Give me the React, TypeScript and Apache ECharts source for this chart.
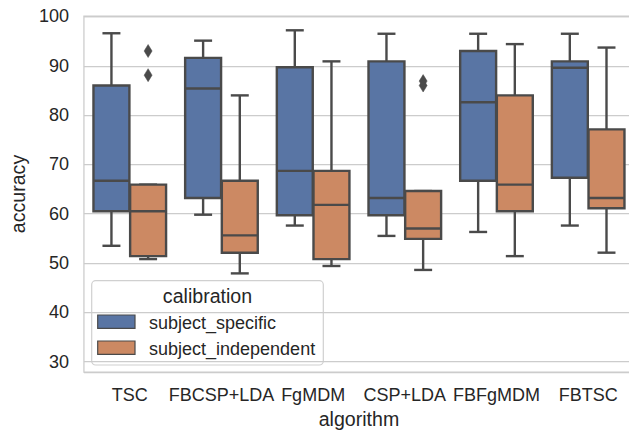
import React, { useEffect, useRef } from "react";
import * as echarts from "echarts";

const categories = ["TSC", "FBCSP+LDA", "FgMDM", "CSP+LDA", "FBFgMDM", "FBTSC"];
const hueNames = ["subject_specific", "subject_independent"];
const hueColors = ["#5975a4", "#cc8963"];
const yTicks = [30, 40, 50, 60, 70, 80, 90, 100];

// [low whisker, Q1, median, Q3, high whisker]
const specificStats = [
  [53.5, 60.5, 66.7, 86.0, 96.6],
  [59.8, 63.2, 85.4, 91.6, 95.1],
  [57.6, 59.7, 68.7, 89.7, 97.2],
  [55.5, 59.7, 63.2, 90.9, 96.5],
  [56.3, 66.7, 82.6, 93.0, 96.5],
  [57.6, 67.3, 89.6, 90.9, 96.5],
];
const independentStats = [
  [50.8, 51.4, 60.5, 65.9, 65.9],
  [47.9, 52.1, 55.6, 66.7, 84.0],
  [49.4, 50.8, 61.8, 68.7, 90.9],
  [48.6, 54.9, 57.0, 64.6, 64.6],
  [51.4, 60.5, 65.9, 84.0, 94.4],
  [52.1, 61.1, 63.2, 77.1, 93.7],
];
const outlierCategory = [0, 0, 3, 3];
const outlierHue = [1, 1, 1, 1];
const outlierValue = [93.0, 88.1, 86.9, 86.0];

const LINE = "#4a4a4a";
const TEXT = "#262626";
const FONT = "'Liberation Sans', Arial, Helvetica, sans-serif";
const LW = 2.4;

function makeBoxRender(hue: number) {
  return (params: any, api: any) => {
    const cat = api.value(0);
    const low = api.value(1);
    const q1 = api.value(2);
    const med = api.value(3);
    const q3 = api.value(4);
    const high = api.value(5);
    const band = api.size([1, 0])[0];
    const cx = api.coord([cat, q1])[0] + (hue - 0.5) * 0.4 * band;
    const w = band * 0.4 * 0.98;
    const half = w / 2;
    const cap = half / 2;
    const y = (v: number) => api.coord([cat, v])[1];
    const ls = { stroke: LINE, lineWidth: LW, fill: "none" };
    return {
      type: "group",
      children: [
        { type: "line", shape: { x1: cx, y1: y(q3), x2: cx, y2: y(high) }, style: ls },
        { type: "line", shape: { x1: cx - cap, y1: y(high), x2: cx + cap, y2: y(high) }, style: ls },
        { type: "line", shape: { x1: cx, y1: y(q1), x2: cx, y2: y(low) }, style: ls },
        { type: "line", shape: { x1: cx - cap, y1: y(low), x2: cx + cap, y2: y(low) }, style: ls },
        {
          type: "rect",
          shape: { x: cx - half, y: y(q3), width: w, height: y(q1) - y(q3) },
          style: { fill: hueColors[hue], stroke: LINE, lineWidth: LW },
        },
        { type: "line", shape: { x1: cx - half, y1: y(med), x2: cx + half, y2: y(med) }, style: ls },
      ],
    };
  };
}

function outlierRender(params: any, api: any) {
  const cat = api.value(0);
  const v = api.value(1);
  const hue = api.value(2);
  const band = api.size([1, 0])[0];
  const p = api.coord([cat, v]);
  const cx = p[0] + (hue - 0.5) * 0.4 * band;
  const cy = p[1];
  return {
    type: "polygon",
    shape: { points: [[cx, cy - 6.5], [cx + 4, cy], [cx, cy + 6.5], [cx - 4, cy]] },
    style: { fill: LINE, stroke: LINE, lineWidth: 0.5 },
  };
}

export default function App() {
  const ref = useRef<HTMLDivElement>(null);
  useEffect(() => {
    if (!ref.current) return;
    const chart = echarts.init(ref.current, undefined, { renderer: "svg" });
    const statsList = [specificStats, independentStats];
    const boxSeries = statsList.map((stats, hue) => ({
      type: "custom",
      name: hueNames[hue],
      renderItem: makeBoxRender(hue),
      encode: { x: 0, y: [1, 2, 3, 4, 5] },
      data: stats.map((s, i) => [i, ...s]),
      z: 3,
    }));
    const outlierData = outlierValue.map((v, i) => [outlierCategory[i], v, outlierHue[i]]);

    const legendLeft = 91.7;
    const legendTop = 280.7;
    const legendChildren: any[] = [
      {
        type: "rect",
        shape: { x: legendLeft, y: legendTop, width: 231.6, height: 84.3, r: 4 },
        style: { fill: "rgba(255,255,255,0.85)", stroke: "#d0d0d0", lineWidth: 1.2 },
      },
      {
        type: "text",
        style: {
          text: "calibration",
          x: 207.5,
          y: 295.7,
          fill: TEXT,
          font: `19.6px ${FONT}`,
          align: "center",
          verticalAlign: "middle",
        },
      },
    ];
    hueNames.forEach((name, i) => {
      const rowY = 315 + i * 26;
      legendChildren.push({
        type: "rect",
        shape: { x: 97.7, y: rowY, width: 37.3, height: 13.3 },
        style: { fill: hueColors[i], stroke: LINE, lineWidth: 1.2 },
      });
      legendChildren.push({
        type: "text",
        style: {
          text: name,
          x: 149,
          y: rowY + 7.5,
          fill: TEXT,
          font: `18px ${FONT}`,
          align: "left",
          verticalAlign: "middle",
        },
      });
    });

    chart.setOption({
      animation: false,
      backgroundColor: "#ffffff",
      grid: {
        left: 82,
        right: 6,
        top: 16,
        bottom: 59,
        show: true,
        borderColor: "#cccccc",
        borderWidth: 1.25,
        backgroundColor: "transparent",
      },
      xAxis: {
        type: "category",
        data: categories,
        boundaryGap: true,
        name: "algorithm",
        nameLocation: "middle",
        nameGap: 37,
        nameTextStyle: { color: TEXT, fontSize: 19.6, fontFamily: FONT },
        axisLine: { show: false },
        axisTick: { show: false },
        splitLine: { show: false },
        axisLabel: { interval: 0, margin: 14, color: TEXT, fontSize: 18, fontFamily: FONT },
      },
      yAxis: {
        type: "value",
        min: 27.9,
        max: 100.1,
        splitNumber: 7,
        name: "accuracy",
        nameLocation: "middle",
        nameGap: 52,
        nameTextStyle: { color: TEXT, fontSize: 19.6, fontFamily: FONT },
        axisLine: { show: false },
        axisTick: { show: false },
        splitLine: { show: true, lineStyle: { color: "#cccccc", width: 1.25 } },
        axisLabel: {
          margin: 15,
          color: TEXT,
          fontSize: 18,
          fontFamily: FONT,
          formatter: (v: number) => {
            const r = Math.round(v);
            return Math.abs(v - r) < 1e-6 && yTicks.includes(r) ? String(r) : "";
          },
        },
      },
      series: [
        ...boxSeries,
        {
          type: "custom",
          name: "outliers",
          renderItem: outlierRender,
          encode: { x: 0, y: 1 },
          data: outlierData,
          z: 4,
        },
      ],
      graphic: [{ type: "group", z: 100, children: legendChildren }],
    });
    return () => chart.dispose();
  }, []);

  return (
    <div style={{ position: "fixed", left: 0, top: 0, width: 629, height: 434, overflow: "hidden", background: "#fff" }}>
      <div ref={ref} style={{ width: 640, height: 434 }} />
    </div>
  );
}
